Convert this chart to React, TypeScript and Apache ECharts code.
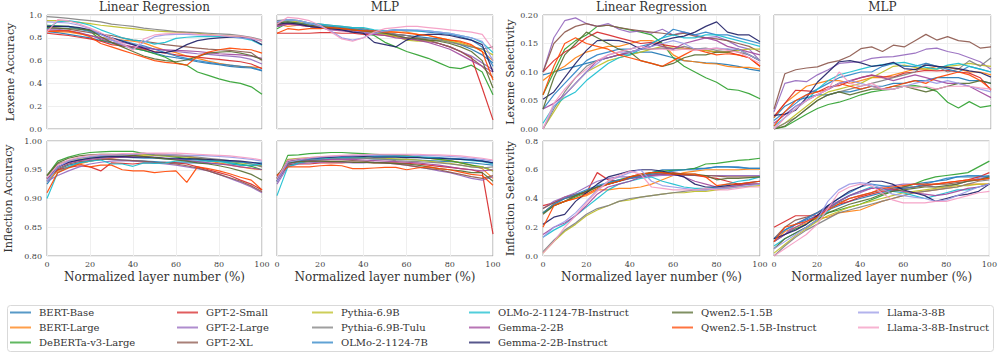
import React, { useEffect, useRef } from "react";
import * as echarts from "echarts";

const MODELS = [
  "BERT-Base", "BERT-Large", "DeBERTa-v3-Large",
  "GPT-2-Small", "GPT-2-Large", "GPT-2-XL",
  "Pythia-6.9B", "Pythia-6.9B-Tulu", "OLMo-2-1124-7B",
  "OLMo-2-1124-7B-Instruct", "Gemma-2-2B", "Gemma-2-2B-Instruct",
  "Qwen2.5-1.5B", "Qwen2.5-1.5B-Instruct",
  "Llama-3-8B", "Llama-3-8B-Instruct",
];

const COLORS = [
  "#1f77b4", "#ff7f0e", "#2ca02c",
  "#d62728", "#9467bd", "#8c564b",
  "#bcbd22", "#7f7f7f", "#2b83c6",
  "#17becf", "#a0479c", "#1f1f66",
  "#556b2f", "#ff4500",
  "#9999e6", "#f49ac2",
];

const LAYER_PCT = [0, 5, 10, 15, 20, 25, 30, 35, 40, 45, 50, 55, 60, 65, 70, 75, 80, 85, 90, 95, 100];

const LEX_ACC_LINEAR = [
  [0.855, 0.845, 0.83, 0.815, 0.8, 0.775, 0.755, 0.73, 0.71, 0.69, 0.665, 0.64, 0.625, 0.61, 0.59, 0.575, 0.565, 0.55, 0.54, 0.535, 0.51],
  [0.86, 0.855, 0.85, 0.835, 0.82, 0.805, 0.79, 0.78, 0.77, 0.755, 0.72, 0.69, 0.67, 0.64, 0.62, 0.595, 0.575, 0.56, 0.55, 0.545, 0.535],
  [0.91, 0.905, 0.9, 0.88, 0.86, 0.78, 0.76, 0.74, 0.71, 0.69, 0.66, 0.63, 0.58, 0.56, 0.5, 0.47, 0.44, 0.415, 0.4, 0.37, 0.305],
  [0.84, 0.83, 0.82, 0.805, 0.79, 0.77, 0.74, 0.73, 0.72, 0.7, 0.68, 0.665, 0.65, 0.64, 0.63, 0.62, 0.61, 0.6, 0.59, 0.57, 0.53],
  [0.88, 0.875, 0.86, 0.84, 0.82, 0.8, 0.78, 0.76, 0.74, 0.72, 0.7, 0.69, 0.68, 0.67, 0.66, 0.655, 0.645, 0.64, 0.63, 0.61, 0.57],
  [0.89, 0.885, 0.875, 0.86, 0.845, 0.83, 0.82, 0.8, 0.78, 0.77, 0.755, 0.74, 0.73, 0.72, 0.71, 0.7, 0.695, 0.69, 0.68, 0.67, 0.6],
  [0.95, 0.95, 0.945, 0.935, 0.925, 0.91, 0.9, 0.89, 0.88, 0.87, 0.86, 0.855, 0.85, 0.845, 0.84, 0.83, 0.82, 0.815, 0.81, 0.8, 0.77],
  [0.985, 0.98, 0.97, 0.96, 0.95, 0.94, 0.92, 0.91, 0.9, 0.885, 0.875, 0.865, 0.855, 0.85, 0.845, 0.84, 0.835, 0.83, 0.82, 0.805, 0.78],
  [0.9, 0.9, 0.895, 0.875, 0.855, 0.83, 0.8, 0.775, 0.75, 0.73, 0.7, 0.67, 0.64, 0.62, 0.6, 0.585, 0.57, 0.56, 0.55, 0.54, 0.515],
  [0.88, 0.94, 0.95, 0.935, 0.91, 0.87, 0.835, 0.8, 0.78, 0.77, 0.745, 0.76, 0.795, 0.805, 0.81, 0.81, 0.81, 0.805, 0.8, 0.78, 0.735],
  [0.87, 0.865, 0.86, 0.845, 0.82, 0.79, 0.76, 0.74, 0.72, 0.71, 0.7, 0.695, 0.69, 0.685, 0.68, 0.67, 0.66, 0.655, 0.65, 0.64, 0.62],
  [0.9, 0.9, 0.9, 0.89, 0.87, 0.835, 0.8, 0.77, 0.74, 0.71, 0.675, 0.67, 0.69, 0.74, 0.775, 0.79, 0.8, 0.805, 0.805, 0.79, 0.74],
  [0.89, 0.885, 0.88, 0.875, 0.87, 0.81, 0.76, 0.72, 0.68, 0.64, 0.615, 0.6, 0.59, 0.605, 0.635, 0.665, 0.675, 0.68, 0.665, 0.645, 0.61],
  [0.855, 0.86, 0.86, 0.84, 0.81, 0.75, 0.72, 0.69, 0.66, 0.63, 0.6, 0.585, 0.575, 0.56, 0.635, 0.675, 0.695, 0.71, 0.7, 0.695, 0.665],
  [0.94, 0.935, 0.93, 0.91, 0.88, 0.83, 0.78, 0.74, 0.7, 0.76, 0.81, 0.825, 0.83, 0.83, 0.825, 0.82, 0.82, 0.81, 0.8, 0.79, 0.77],
  [0.85, 0.96, 0.95, 0.92, 0.885, 0.845, 0.8, 0.75, 0.69, 0.79, 0.825, 0.835, 0.84, 0.84, 0.83, 0.825, 0.82, 0.815, 0.815, 0.8, 0.775],
];

const LEX_ACC_MLP = [
  [0.9, 0.93, 0.92, 0.9, 0.89, 0.88, 0.87, 0.86, 0.86, 0.85, 0.84, 0.83, 0.82, 0.81, 0.8, 0.79, 0.77, 0.74, 0.7, 0.65, 0.58],
  [0.92, 0.9, 0.91, 0.9, 0.89, 0.88, 0.88, 0.87, 0.87, 0.86, 0.86, 0.85, 0.85, 0.83, 0.82, 0.8, 0.78, 0.76, 0.73, 0.68, 0.6],
  [0.88, 0.93, 0.92, 0.9, 0.89, 0.88, 0.87, 0.85, 0.84, 0.82, 0.76, 0.72, 0.68, 0.65, 0.62, 0.58, 0.54, 0.53, 0.56, 0.5, 0.3],
  [0.84, 0.84, 0.84, 0.84, 0.845, 0.845, 0.84, 0.84, 0.83, 0.83, 0.82, 0.81, 0.8, 0.78, 0.77, 0.75, 0.72, 0.68, 0.63, 0.36, 0.08],
  [0.9, 0.92, 0.91, 0.9, 0.89, 0.88, 0.87, 0.86, 0.85, 0.84, 0.83, 0.82, 0.8, 0.79, 0.77, 0.75, 0.72, 0.68, 0.64, 0.58, 0.52],
  [0.91, 0.93, 0.92, 0.91, 0.9, 0.89, 0.88, 0.87, 0.86, 0.85, 0.84, 0.83, 0.82, 0.8, 0.78, 0.75, 0.72, 0.68, 0.62, 0.55, 0.45],
  [0.93, 0.95, 0.94, 0.93, 0.91, 0.9, 0.89, 0.88, 0.86, 0.85, 0.83, 0.81, 0.78, 0.77, 0.77, 0.78, 0.77, 0.75, 0.72, 0.7, 0.65],
  [0.95, 0.96, 0.95, 0.93, 0.92, 0.91, 0.9, 0.89, 0.88, 0.86, 0.85, 0.83, 0.82, 0.8, 0.79, 0.78, 0.76, 0.74, 0.72, 0.7, 0.72],
  [0.93, 0.94, 0.93, 0.92, 0.91, 0.9, 0.89, 0.88, 0.87, 0.86, 0.86, 0.87, 0.86, 0.86, 0.85, 0.84, 0.83, 0.81, 0.78, 0.72, 0.55],
  [0.94, 0.96, 0.95, 0.93, 0.92, 0.91, 0.9, 0.89, 0.89, 0.87, 0.86, 0.87, 0.87, 0.86, 0.86, 0.85, 0.84, 0.82, 0.8, 0.76, 0.67],
  [0.9, 0.92, 0.91, 0.9, 0.89, 0.87, 0.86, 0.85, 0.84, 0.83, 0.82, 0.8, 0.79, 0.78, 0.76, 0.73, 0.7, 0.65, 0.6, 0.55, 0.5],
  [0.92, 0.93, 0.92, 0.9, 0.89, 0.88, 0.87, 0.85, 0.84, 0.76, 0.74, 0.72, 0.78, 0.82, 0.83, 0.83, 0.82, 0.8, 0.78, 0.74, 0.5],
  [0.93, 0.94, 0.93, 0.91, 0.9, 0.89, 0.88, 0.87, 0.86, 0.85, 0.84, 0.82, 0.8, 0.79, 0.78, 0.77, 0.75, 0.72, 0.68, 0.6, 0.36],
  [0.84, 0.88, 0.87, 0.88, 0.88, 0.89, 0.88, 0.87, 0.86, 0.86, 0.85, 0.85, 0.84, 0.83, 0.82, 0.8, 0.78, 0.77, 0.74, 0.68, 0.43],
  [0.94, 0.96, 0.95, 0.93, 0.9, 0.86, 0.8, 0.78, 0.8, 0.84, 0.86, 0.87, 0.87, 0.87, 0.86, 0.85, 0.84, 0.82, 0.8, 0.77, 0.6],
  [0.92, 0.98, 0.97, 0.95, 0.91, 0.85, 0.79, 0.77, 0.8, 0.85, 0.88, 0.89, 0.9, 0.9, 0.89, 0.88, 0.87, 0.86, 0.85, 0.83, 0.7],
];

const LEX_SEL_LINEAR = [
  [0.095, 0.1, 0.105, 0.11, 0.115, 0.12, 0.125, 0.13, 0.132, 0.135, 0.135, 0.13, 0.125, 0.12, 0.118, 0.116, 0.115, 0.113, 0.11, 0.105, 0.102],
  [0.085, 0.1, 0.11, 0.125, 0.135, 0.14, 0.145, 0.145, 0.15, 0.155, 0.155, 0.15, 0.13, 0.12, 0.118, 0.115, 0.114, 0.11, 0.108, 0.108, 0.105],
  [0.06, 0.1, 0.14, 0.155, 0.165, 0.18, 0.182, 0.178, 0.174, 0.17, 0.165, 0.15, 0.125, 0.11, 0.1, 0.09, 0.082, 0.07, 0.068, 0.062, 0.053],
  [0.1, 0.12, 0.135, 0.145, 0.16, 0.17, 0.165, 0.16, 0.155, 0.15, 0.152, 0.148, 0.145, 0.142, 0.14, 0.138, 0.135, 0.135, 0.13, 0.125, 0.11],
  [0.1, 0.16, 0.19, 0.195, 0.185, 0.18, 0.185, 0.175, 0.17, 0.172, 0.168, 0.175, 0.165, 0.17, 0.165, 0.16, 0.162, 0.155, 0.145, 0.14, 0.12],
  [0.1, 0.15, 0.17, 0.18, 0.185, 0.18, 0.182, 0.178, 0.175, 0.172, 0.17, 0.168, 0.165, 0.168, 0.163, 0.16, 0.158, 0.155, 0.15, 0.145, 0.135],
  [0.0, 0.03, 0.06, 0.08, 0.1, 0.11, 0.12, 0.125, 0.13, 0.135, 0.14, 0.145, 0.142, 0.14, 0.14, 0.138, 0.135, 0.135, 0.138, 0.14, 0.14],
  [0.0, 0.035, 0.065, 0.09, 0.11, 0.12, 0.125, 0.13, 0.135, 0.14, 0.14, 0.142, 0.14, 0.145, 0.14, 0.142, 0.138, 0.14, 0.135, 0.13, 0.12],
  [0.035, 0.06, 0.08, 0.1, 0.12, 0.13, 0.135, 0.14, 0.14, 0.145, 0.15, 0.16, 0.175, 0.17, 0.165, 0.17, 0.165, 0.165, 0.16, 0.155, 0.15],
  [0.01, 0.04, 0.055, 0.065, 0.085, 0.1, 0.115, 0.125, 0.13, 0.14, 0.15, 0.16, 0.165, 0.16, 0.16, 0.165, 0.165, 0.16, 0.155, 0.15, 0.145],
  [0.035, 0.045, 0.06, 0.08, 0.1, 0.12, 0.125, 0.13, 0.135, 0.14, 0.15, 0.145, 0.14, 0.15, 0.155, 0.16, 0.155, 0.145, 0.14, 0.135, 0.13],
  [0.052, 0.065, 0.09, 0.115, 0.138, 0.155, 0.156, 0.155, 0.15, 0.14, 0.145, 0.155, 0.16, 0.163, 0.17, 0.18, 0.188, 0.17, 0.165, 0.165, 0.153],
  [0.035, 0.09, 0.13, 0.15, 0.17, 0.16, 0.15, 0.14, 0.135, 0.12, 0.115, 0.11, 0.115, 0.125, 0.13, 0.13, 0.135, 0.135, 0.14, 0.13, 0.12],
  [0.06, 0.11, 0.15, 0.16, 0.15, 0.145, 0.14, 0.13, 0.125, 0.12, 0.115, 0.11, 0.12, 0.13, 0.14, 0.135, 0.13, 0.132, 0.13, 0.125, 0.11],
  [0.0, 0.04, 0.06, 0.08, 0.1, 0.115, 0.13, 0.135, 0.135, 0.14, 0.145, 0.15, 0.155, 0.15, 0.14, 0.14, 0.142, 0.14, 0.14, 0.13, 0.12],
  [0.0, 0.045, 0.07, 0.09, 0.105, 0.12, 0.13, 0.135, 0.14, 0.145, 0.14, 0.14, 0.138, 0.14, 0.138, 0.14, 0.142, 0.138, 0.135, 0.125, 0.115],
];

const LEX_SEL_MLP = [
  [0.02, 0.04, 0.05, 0.055, 0.06, 0.06, 0.065, 0.065, 0.07, 0.075, 0.075, 0.08, 0.08, 0.085, 0.085, 0.09, 0.09, 0.09, 0.085, 0.085, 0.08],
  [0.02, 0.045, 0.06, 0.075, 0.08, 0.085, 0.085, 0.08, 0.085, 0.09, 0.09, 0.095, 0.1, 0.105, 0.105, 0.11, 0.108, 0.105, 0.1, 0.1, 0.095],
  [0.0, 0.004, 0.015, 0.026, 0.036, 0.043, 0.047, 0.053, 0.06, 0.065, 0.068, 0.07, 0.075, 0.076, 0.073, 0.066, 0.047, 0.037, 0.048, 0.038, 0.041],
  [0.022, 0.045, 0.068, 0.067, 0.065, 0.074, 0.076, 0.084, 0.09, 0.094, 0.092, 0.091, 0.098, 0.1, 0.103, 0.102, 0.103, 0.1, 0.098, 0.09, 0.068],
  [0.03, 0.08, 0.085, 0.083, 0.095, 0.104, 0.115, 0.117, 0.118, 0.124, 0.126, 0.127, 0.13, 0.133, 0.14, 0.142, 0.136, 0.132, 0.125, 0.118, 0.105],
  [0.035, 0.097, 0.104, 0.107, 0.109, 0.116, 0.12, 0.128, 0.141, 0.144, 0.136, 0.147, 0.144, 0.155, 0.166, 0.156, 0.162, 0.155, 0.153, 0.142, 0.144],
  [0.0, 0.01, 0.025, 0.04, 0.055, 0.065, 0.07, 0.075, 0.08, 0.09, 0.1, 0.11, 0.112, 0.108, 0.105, 0.105, 0.11, 0.112, 0.115, 0.112, 0.11],
  [0.0, 0.01, 0.02, 0.035, 0.05, 0.06, 0.065, 0.07, 0.075, 0.08, 0.085, 0.09, 0.095, 0.1, 0.115, 0.11, 0.1, 0.105, 0.12, 0.11, 0.125],
  [0.015, 0.03, 0.045, 0.06, 0.07, 0.08, 0.09, 0.095, 0.1, 0.1, 0.11, 0.115, 0.11, 0.11, 0.115, 0.11, 0.105, 0.1, 0.11, 0.105, 0.1],
  [0.005, 0.02, 0.035, 0.05, 0.07, 0.085, 0.095, 0.1, 0.105, 0.11, 0.113, 0.115, 0.117, 0.112, 0.108, 0.105, 0.112, 0.115, 0.11, 0.105, 0.1],
  [0.01, 0.025, 0.04, 0.05, 0.06, 0.07, 0.08, 0.085, 0.09, 0.095, 0.09, 0.085, 0.09, 0.095, 0.09, 0.085, 0.08, 0.08, 0.075, 0.065, 0.055],
  [0.024, 0.026, 0.033, 0.055, 0.082, 0.1, 0.118, 0.12, 0.116, 0.11, 0.112, 0.117, 0.106, 0.104, 0.112, 0.11, 0.108, 0.106, 0.102, 0.099, 0.091],
  [0.0, 0.005, 0.02, 0.035, 0.05, 0.06, 0.065, 0.06, 0.065, 0.07, 0.07, 0.075, 0.075, 0.07, 0.065, 0.07, 0.075, 0.08, 0.08, 0.085, 0.08],
  [0.005, 0.03, 0.05, 0.06, 0.065, 0.07, 0.08, 0.075, 0.07, 0.075, 0.07, 0.075, 0.08, 0.085, 0.08, 0.09, 0.095, 0.1, 0.095, 0.085, 0.07],
  [0.0, 0.02, 0.04, 0.05, 0.06, 0.07, 0.08, 0.085, 0.08, 0.075, 0.07, 0.07, 0.075, 0.08, 0.085, 0.08, 0.085, 0.08, 0.075, 0.07, 0.065],
  [0.0, 0.02, 0.035, 0.05, 0.06, 0.07, 0.1, 0.08, 0.075, 0.08, 0.07, 0.07, 0.075, 0.072, 0.075, 0.07, 0.075, 0.075, 0.075, 0.072, 0.07],
];

const INFL_ACC_LINEAR = [
  [0.925, 0.95, 0.958, 0.962, 0.965, 0.968, 0.968, 0.967, 0.966, 0.965, 0.964, 0.963, 0.962, 0.962, 0.962, 0.961, 0.96, 0.96, 0.958, 0.957, 0.958],
  [0.93, 0.948, 0.955, 0.96, 0.965, 0.968, 0.97, 0.972, 0.974, 0.976, 0.977, 0.977, 0.976, 0.974, 0.97, 0.965, 0.962, 0.958, 0.955, 0.952, 0.95],
  [0.94, 0.965, 0.972, 0.977, 0.98, 0.981, 0.982, 0.982, 0.982, 0.978, 0.975, 0.974, 0.972, 0.97, 0.968, 0.966, 0.965, 0.962, 0.96, 0.956, 0.95],
  [0.935, 0.95, 0.954, 0.957, 0.955, 0.948, 0.962, 0.961, 0.96, 0.962, 0.962, 0.963, 0.962, 0.96, 0.955, 0.95, 0.945, 0.94, 0.932, 0.925, 0.915],
  [0.93, 0.94, 0.948, 0.955, 0.96, 0.963, 0.965, 0.966, 0.965, 0.964, 0.962, 0.96, 0.958, 0.955, 0.952, 0.948, 0.942, 0.935, 0.928, 0.92, 0.91],
  [0.935, 0.952, 0.96, 0.964, 0.966, 0.968, 0.968, 0.967, 0.966, 0.965, 0.963, 0.962, 0.96, 0.957, 0.953, 0.948, 0.942, 0.936, 0.93, 0.922, 0.912],
  [0.94, 0.96, 0.965, 0.968, 0.97, 0.972, 0.974, 0.975, 0.975, 0.976, 0.975, 0.974, 0.973, 0.972, 0.97, 0.968, 0.966, 0.964, 0.962, 0.96, 0.956],
  [0.94, 0.96, 0.966, 0.97, 0.972, 0.974, 0.975, 0.976, 0.976, 0.979, 0.976, 0.975, 0.974, 0.973, 0.972, 0.97, 0.968, 0.966, 0.964, 0.96, 0.955],
  [0.93, 0.955, 0.963, 0.967, 0.97, 0.972, 0.972, 0.972, 0.971, 0.97, 0.97, 0.969, 0.968, 0.968, 0.967, 0.966, 0.965, 0.964, 0.963, 0.962, 0.962],
  [0.9, 0.945, 0.955, 0.962, 0.965, 0.967, 0.96, 0.96, 0.956, 0.962, 0.961, 0.962, 0.965, 0.965, 0.965, 0.965, 0.964, 0.962, 0.958, 0.958, 0.96],
  [0.935, 0.955, 0.962, 0.966, 0.968, 0.97, 0.971, 0.972, 0.972, 0.973, 0.972, 0.97, 0.968, 0.966, 0.964, 0.962, 0.96, 0.958, 0.955, 0.953, 0.95],
  [0.935, 0.955, 0.963, 0.967, 0.97, 0.972, 0.973, 0.973, 0.972, 0.972, 0.971, 0.97, 0.97, 0.969, 0.969, 0.968, 0.967, 0.966, 0.965, 0.963, 0.96],
  [0.94, 0.962, 0.97, 0.974, 0.976, 0.977, 0.977, 0.976, 0.975, 0.973, 0.971, 0.969, 0.967, 0.965, 0.962, 0.96, 0.957, 0.953, 0.948, 0.942, 0.932],
  [0.91, 0.945, 0.953, 0.96, 0.955, 0.958, 0.958, 0.95, 0.948, 0.948, 0.945, 0.947, 0.948, 0.928, 0.955, 0.952, 0.948, 0.943, 0.937, 0.932, 0.915],
  [0.93, 0.955, 0.965, 0.97, 0.973, 0.975, 0.976, 0.976, 0.977, 0.978, 0.978, 0.977, 0.976, 0.975, 0.975, 0.974, 0.973, 0.972, 0.97, 0.968, 0.965],
  [0.935, 0.958, 0.967, 0.972, 0.975, 0.977, 0.977, 0.978, 0.978, 0.979, 0.979, 0.979, 0.979, 0.978, 0.977, 0.976, 0.975, 0.974, 0.972, 0.97, 0.967],
];

const INFL_ACC_MLP = [
  [0.93, 0.962, 0.965, 0.967, 0.968, 0.969, 0.97, 0.97, 0.97, 0.969, 0.969, 0.968, 0.968, 0.967, 0.966, 0.965, 0.964, 0.963, 0.962, 0.96, 0.958],
  [0.935, 0.965, 0.967, 0.968, 0.969, 0.97, 0.971, 0.972, 0.973, 0.975, 0.976, 0.976, 0.975, 0.973, 0.97, 0.968, 0.966, 0.962, 0.958, 0.952, 0.935],
  [0.93, 0.975, 0.976, 0.978, 0.979, 0.98, 0.98, 0.979, 0.978, 0.977, 0.976, 0.975, 0.974, 0.972, 0.97, 0.968, 0.966, 0.962, 0.958, 0.955, 0.948],
  [0.94, 0.958, 0.96, 0.96, 0.962, 0.962, 0.962, 0.963, 0.963, 0.962, 0.962, 0.962, 0.961, 0.96, 0.958, 0.956, 0.954, 0.952, 0.95, 0.945, 0.838],
  [0.925, 0.955, 0.96, 0.962, 0.963, 0.964, 0.963, 0.962, 0.962, 0.963, 0.962, 0.96, 0.958, 0.955, 0.952, 0.948, 0.945, 0.94, 0.935, 0.932, 0.938],
  [0.93, 0.958, 0.962, 0.964, 0.965, 0.965, 0.965, 0.966, 0.965, 0.963, 0.962, 0.96, 0.958, 0.955, 0.952, 0.95, 0.946, 0.942, 0.938, 0.935, 0.94],
  [0.935, 0.968, 0.97, 0.971, 0.972, 0.972, 0.972, 0.972, 0.971, 0.97, 0.97, 0.969, 0.968, 0.967, 0.965, 0.963, 0.961, 0.958, 0.955, 0.955, 0.948],
  [0.935, 0.967, 0.969, 0.97, 0.97, 0.971, 0.971, 0.97, 0.97, 0.969, 0.968, 0.966, 0.965, 0.964, 0.963, 0.962, 0.96, 0.958, 0.955, 0.953, 0.955],
  [0.93, 0.96, 0.965, 0.968, 0.97, 0.972, 0.973, 0.974, 0.975, 0.975, 0.974, 0.974, 0.973, 0.972, 0.972, 0.971, 0.97, 0.969, 0.968, 0.966, 0.962],
  [0.905, 0.955, 0.962, 0.966, 0.968, 0.97, 0.971, 0.972, 0.972, 0.973, 0.973, 0.973, 0.972, 0.972, 0.971, 0.97, 0.969, 0.968, 0.966, 0.964, 0.96],
  [0.93, 0.96, 0.964, 0.966, 0.967, 0.968, 0.968, 0.968, 0.967, 0.966, 0.965, 0.964, 0.963, 0.962, 0.96, 0.958, 0.955, 0.952, 0.95, 0.948, 0.95],
  [0.935, 0.965, 0.968, 0.97, 0.971, 0.972, 0.973, 0.973, 0.973, 0.972, 0.972, 0.972, 0.971, 0.971, 0.97, 0.97, 0.969, 0.968, 0.967, 0.965, 0.962],
  [0.94, 0.962, 0.964, 0.965, 0.965, 0.964, 0.964, 0.963, 0.963, 0.962, 0.962, 0.961, 0.96, 0.958, 0.955, 0.952, 0.95, 0.948, 0.945, 0.945, 0.93],
  [0.94, 0.955, 0.955, 0.955, 0.957, 0.958, 0.957, 0.952, 0.952, 0.953, 0.954, 0.954, 0.95, 0.953, 0.955, 0.952, 0.95, 0.946, 0.942, 0.94, 0.923],
  [0.93, 0.963, 0.967, 0.97, 0.972, 0.973, 0.974, 0.974, 0.975, 0.975, 0.976, 0.976, 0.976, 0.975, 0.975, 0.974, 0.973, 0.972, 0.97, 0.968, 0.965],
  [0.935, 0.966, 0.969, 0.971, 0.973, 0.974, 0.975, 0.976, 0.976, 0.977, 0.977, 0.977, 0.977, 0.977, 0.976, 0.976, 0.975, 0.974, 0.972, 0.97, 0.967],
];

const INFL_SEL_LINEAR = [
  [0.3, 0.36, 0.4, 0.42, 0.45, 0.48, 0.5, 0.52, 0.54, 0.56, 0.58, 0.6, 0.6, 0.6, 0.61, 0.61, 0.62, 0.62, 0.615, 0.61, 0.61],
  [0.3, 0.36, 0.38, 0.4, 0.42, 0.46, 0.46, 0.47, 0.47, 0.48, 0.5, 0.53, 0.56, 0.58, 0.59, 0.6, 0.6, 0.6, 0.6, 0.605, 0.605],
  [0.3, 0.35, 0.38, 0.41, 0.44, 0.48, 0.51, 0.53, 0.55, 0.56, 0.58, 0.59, 0.595, 0.6, 0.61, 0.64, 0.645, 0.655, 0.665, 0.67, 0.68],
  [0.35, 0.37, 0.41, 0.43, 0.44, 0.58, 0.53, 0.52, 0.54, 0.55, 0.56, 0.57, 0.58, 0.57, 0.56, 0.55, 0.54, 0.52, 0.5, 0.5, 0.5],
  [0.33, 0.38, 0.41, 0.44, 0.48, 0.52, 0.54, 0.55, 0.55, 0.55, 0.555, 0.56, 0.56, 0.56, 0.56, 0.56, 0.56, 0.56, 0.56, 0.56, 0.56],
  [0.33, 0.37, 0.4, 0.42, 0.45, 0.48, 0.5, 0.52, 0.55, 0.56, 0.57, 0.57, 0.57, 0.565, 0.56, 0.56, 0.555, 0.55, 0.55, 0.55, 0.55],
  [0.02, 0.1, 0.17, 0.22, 0.28, 0.32, 0.35, 0.38, 0.39, 0.41, 0.42, 0.43, 0.44, 0.44, 0.45, 0.45, 0.46, 0.47, 0.48, 0.485, 0.49],
  [0.03, 0.11, 0.18, 0.23, 0.29, 0.33, 0.35, 0.38, 0.4, 0.41, 0.42, 0.43, 0.44, 0.45, 0.46, 0.46, 0.47, 0.48, 0.49, 0.5, 0.5],
  [0.3, 0.36, 0.4, 0.43, 0.46, 0.49, 0.51, 0.53, 0.54, 0.55, 0.57, 0.58, 0.59, 0.6, 0.6, 0.61, 0.62, 0.62, 0.62, 0.61, 0.61],
  [0.13, 0.18, 0.22, 0.28, 0.34, 0.4, 0.46, 0.5, 0.52, 0.54, 0.55, 0.52, 0.5, 0.48, 0.47, 0.47, 0.48, 0.5, 0.52, 0.53, 0.55],
  [0.15, 0.2, 0.23, 0.28, 0.35, 0.43, 0.48, 0.5, 0.52, 0.55, 0.56, 0.57, 0.57, 0.55, 0.52, 0.5, 0.48, 0.48, 0.49, 0.5, 0.5],
  [0.22, 0.27, 0.29, 0.38, 0.44, 0.5, 0.55, 0.57, 0.59, 0.6, 0.6, 0.59, 0.57, 0.55, 0.5, 0.48, 0.48, 0.49, 0.5, 0.51, 0.52],
  [0.29, 0.35, 0.38, 0.42, 0.45, 0.48, 0.5, 0.52, 0.55, 0.57, 0.58, 0.58, 0.575, 0.57, 0.57, 0.56, 0.53, 0.54, 0.54, 0.545, 0.55],
  [0.2, 0.35, 0.38, 0.4, 0.43, 0.47, 0.5, 0.52, 0.55, 0.57, 0.58, 0.58, 0.57, 0.57, 0.57, 0.55, 0.49, 0.5, 0.5, 0.51, 0.52],
  [0.13, 0.2, 0.24, 0.3, 0.38, 0.46, 0.52, 0.55, 0.58, 0.6, 0.52, 0.49, 0.48, 0.47, 0.46, 0.46, 0.47, 0.47, 0.48, 0.49, 0.5],
  [0.02, 0.1, 0.2, 0.28, 0.37, 0.45, 0.52, 0.56, 0.59, 0.57, 0.48, 0.47, 0.46, 0.46, 0.46, 0.47, 0.46, 0.46, 0.47, 0.48, 0.48],
];

const INFL_SEL_MLP = [
  [0.12, 0.18, 0.22, 0.25, 0.28, 0.32, 0.35, 0.38, 0.4, 0.42, 0.44, 0.46, 0.48, 0.5, 0.51, 0.52, 0.53, 0.55, 0.55, 0.55, 0.56],
  [0.1, 0.17, 0.2, 0.23, 0.26, 0.27, 0.3, 0.31, 0.32, 0.35, 0.38, 0.4, 0.42, 0.44, 0.45, 0.46, 0.47, 0.48, 0.5, 0.5, 0.5],
  [0.1, 0.15, 0.19, 0.22, 0.27, 0.3, 0.32, 0.34, 0.36, 0.39, 0.42, 0.45, 0.48, 0.5, 0.53, 0.55, 0.56, 0.57, 0.58, 0.62, 0.66],
  [0.2, 0.24, 0.28, 0.28, 0.28, 0.33, 0.36, 0.38, 0.41, 0.43, 0.45, 0.46, 0.47, 0.48, 0.49, 0.5, 0.51, 0.52, 0.53, 0.55, 0.58],
  [0.1, 0.15, 0.22, 0.26, 0.3, 0.35, 0.38, 0.42, 0.44, 0.47, 0.48, 0.49, 0.5, 0.5, 0.49, 0.48, 0.48, 0.5, 0.52, 0.54, 0.55],
  [0.12, 0.2, 0.25, 0.27, 0.3, 0.34, 0.37, 0.4, 0.42, 0.44, 0.46, 0.47, 0.48, 0.48, 0.49, 0.5, 0.5, 0.51, 0.52, 0.53, 0.54],
  [0.02, 0.08, 0.14, 0.19, 0.24, 0.28, 0.31, 0.34, 0.36, 0.38, 0.4, 0.42, 0.44, 0.45, 0.46, 0.47, 0.48, 0.49, 0.49, 0.5, 0.5],
  [0.0, 0.07, 0.13, 0.18, 0.22, 0.26, 0.3, 0.32, 0.34, 0.36, 0.38, 0.4, 0.42, 0.44, 0.45, 0.46, 0.47, 0.48, 0.5, 0.52, 0.53],
  [0.12, 0.18, 0.22, 0.26, 0.3, 0.35, 0.4, 0.44, 0.48, 0.5, 0.49, 0.48, 0.47, 0.48, 0.5, 0.52, 0.54, 0.55, 0.56, 0.56, 0.55],
  [0.07, 0.12, 0.16, 0.2, 0.25, 0.31, 0.38, 0.42, 0.45, 0.48, 0.47, 0.45, 0.44, 0.42, 0.4, 0.42, 0.44, 0.46, 0.46, 0.48, 0.5],
  [0.1, 0.15, 0.2, 0.24, 0.28, 0.33, 0.38, 0.42, 0.45, 0.47, 0.47, 0.46, 0.45, 0.44, 0.43, 0.42, 0.43, 0.45, 0.47, 0.48, 0.5],
  [0.12, 0.15, 0.18, 0.22, 0.28, 0.35, 0.4, 0.45, 0.48, 0.52, 0.52, 0.5, 0.46, 0.44, 0.42, 0.38, 0.4, 0.42, 0.43, 0.45, 0.5],
  [0.05, 0.12, 0.16, 0.2, 0.25, 0.3, 0.33, 0.36, 0.38, 0.4, 0.43, 0.45, 0.46, 0.47, 0.48, 0.48, 0.49, 0.5, 0.52, 0.53, 0.55],
  [0.1, 0.2, 0.22, 0.24, 0.27, 0.32, 0.36, 0.4, 0.42, 0.44, 0.47, 0.48, 0.49, 0.5, 0.5, 0.5, 0.51, 0.52, 0.53, 0.53, 0.54],
  [0.05, 0.1, 0.15, 0.2, 0.25, 0.38, 0.46, 0.5, 0.51, 0.5, 0.47, 0.43, 0.42, 0.41, 0.4, 0.38, 0.39, 0.42, 0.45, 0.48, 0.5],
  [0.0, 0.05, 0.1, 0.15, 0.22, 0.33, 0.44, 0.48, 0.5, 0.49, 0.44, 0.39, 0.37, 0.37, 0.37, 0.38, 0.38, 0.4, 0.42, 0.44, 0.45],
];

const COLUMN_TITLES = ["Linear Regression", "MLP", "Linear Regression", "MLP"];
const LEGEND_COLUMNS = [[0, 1, 2], [3, 4, 5], [6, 7, 8], [9, 10, 11], [12, 13], [14, 15]];

const FONT = "'DejaVu Serif', serif";

type Panel = {
  data: number[][];
  row: number;
  col: number;
  min: number;
  max: number;
  interval: number;
  decimals: number;
  yName: string;
  nameGap: number;
};

const PANELS: Panel[] = [
  { data: LEX_ACC_LINEAR, row: 0, col: 0, min: 0, max: 1, interval: 0.2, decimals: 1, yName: "Lexeme Accuracy", nameGap: 31 },
  { data: LEX_ACC_MLP, row: 0, col: 1, min: 0, max: 1, interval: 0.2, decimals: 1, yName: "", nameGap: 0 },
  { data: LEX_SEL_LINEAR, row: 0, col: 2, min: 0, max: 0.2, interval: 0.05, decimals: 2, yName: "Lexeme Selectivity", nameGap: 27 },
  { data: LEX_SEL_MLP, row: 0, col: 3, min: 0, max: 0.2, interval: 0.05, decimals: 2, yName: "", nameGap: 0 },
  { data: INFL_ACC_LINEAR, row: 1, col: 0, min: 0.8, max: 1.0, interval: 0.05, decimals: 2, yName: "Inflection Accuracy", nameGap: 33 },
  { data: INFL_ACC_MLP, row: 1, col: 1, min: 0.8, max: 1.0, interval: 0.05, decimals: 2, yName: "", nameGap: 0 },
  { data: INFL_SEL_LINEAR, row: 1, col: 2, min: 0, max: 0.8, interval: 0.2, decimals: 1, yName: "Inflection Selectivity", nameGap: 27 },
  { data: INFL_SEL_MLP, row: 1, col: 3, min: 0, max: 0.8, interval: 0.2, decimals: 1, yName: "", nameGap: 0 },
];

const COL_BOXES = [
  { left: 47, width: 215 },
  { left: 277, width: 216 },
  { left: 543, width: 217 },
  { left: 774, width: 217 },
];
const ROW_BOXES = [
  { top: 15, height: 114 },
  { top: 141, height: 115 },
];
const LEGEND_LEFTS = [10, 177, 312, 469, 672, 858];

function buildOption() {
  const grid = PANELS.map((p) => ({
    left: COL_BOXES[p.col].left,
    width: COL_BOXES[p.col].width,
    top: ROW_BOXES[p.row].top,
    height: ROW_BOXES[p.row].height,
    show: true,
    borderColor: "#a0a0a0",
    borderWidth: 1,
    backgroundColor: "#fff",
    containLabel: false,
  }));

  const xAxis = PANELS.map((p, i) => ({
    type: "value",
    gridIndex: i,
    min: 0,
    max: 100,
    interval: 20,
    axisLine: { show: false },
    axisTick: { show: false },
    splitLine: { show: true, lineStyle: { color: "#efefef", width: 1 } },
    axisLabel: {
      show: p.row === 1,
      fontFamily: FONT,
      fontSize: 8,
      color: "#444",
      margin: 4,
    },
    name: p.row === 1 ? "Normalized layer number (%)" : "",
    nameLocation: "middle",
    nameGap: 15,
    nameTextStyle: { fontFamily: FONT, fontSize: 12, color: "#333" },
  }));

  const yAxis = PANELS.map((p, i) => ({
    type: "value",
    gridIndex: i,
    min: p.min,
    max: p.max,
    interval: p.interval,
    axisLine: { show: false },
    axisTick: { show: false },
    splitLine: { show: true, lineStyle: { color: "#efefef", width: 1 } },
    axisLabel: {
      show: p.col === 0 || p.col === 2,
      fontFamily: FONT,
      fontSize: 8,
      color: "#444",
      margin: 5,
      formatter: (v: number) => v.toFixed(p.decimals),
    },
    name: p.yName,
    nameLocation: "middle",
    nameRotate: 90,
    nameGap: p.nameGap,
    nameTextStyle: { fontFamily: FONT, fontSize: 11, color: "#333" },
  }));

  const series: any[] = [];
  PANELS.forEach((p, i) => {
    p.data.forEach((vals, m) => {
      series.push({
        type: "line",
        name: MODELS[m],
        xAxisIndex: i,
        yAxisIndex: i,
        data: LAYER_PCT.map((x, k) => [x, vals[k]]),
        showSymbol: false,
        symbol: "none",
        clip: true,
        color: COLORS[m],
        lineStyle: { width: 1.2, color: COLORS[m], opacity: 0.9 },
        emphasis: { disabled: true },
      });
    });
  });

  const title = COLUMN_TITLES.map((t, c) => ({
    text: t,
    left: COL_BOXES[c].left + COL_BOXES[c].width / 2,
    top: 1,
    textAlign: "center",
    padding: 0,
    textStyle: { fontFamily: FONT, fontSize: 12, fontWeight: "normal", color: "#333" },
  }));

  const legend = LEGEND_COLUMNS.map((idxs, c) => ({
    orient: "vertical",
    left: LEGEND_LEFTS[c],
    top: 305,
    padding: 0,
    itemGap: 0,
    itemWidth: 21,
    itemHeight: 2,
    icon: "rect",
    selectedMode: false,
    data: idxs.map((k) => MODELS[k]),
    itemStyle: { opacity: 0.75 },
    textStyle: { fontFamily: FONT, fontSize: 10, color: "#333", lineHeight: 15, padding: [0, 0, 0, 3] },
  }));

  return {
    animation: false,
    backgroundColor: "#fff",
    title,
    legend,
    grid,
    xAxis,
    yAxis,
    series,
    graphic: [
      {
        type: "rect",
        shape: { x: 7.5, y: 305.5, width: 986, height: 46, r: 3 },
        style: { fill: "none", stroke: "#d9d9d9", lineWidth: 1 },
        z: -1,
      },
    ],
  };
}

export default function App() {
  const ref = useRef<HTMLDivElement>(null);
  useEffect(() => {
    if (!ref.current) return;
    const chart = echarts.init(ref.current, null, { renderer: "svg" });
    chart.setOption(buildOption() as any);
    return () => chart.dispose();
  }, []);
  return (
    <div
      ref={ref}
      style={{ position: "absolute", left: 0, top: 0, width: 1000, height: 355, background: "#fff" }}
    />
  );
}
